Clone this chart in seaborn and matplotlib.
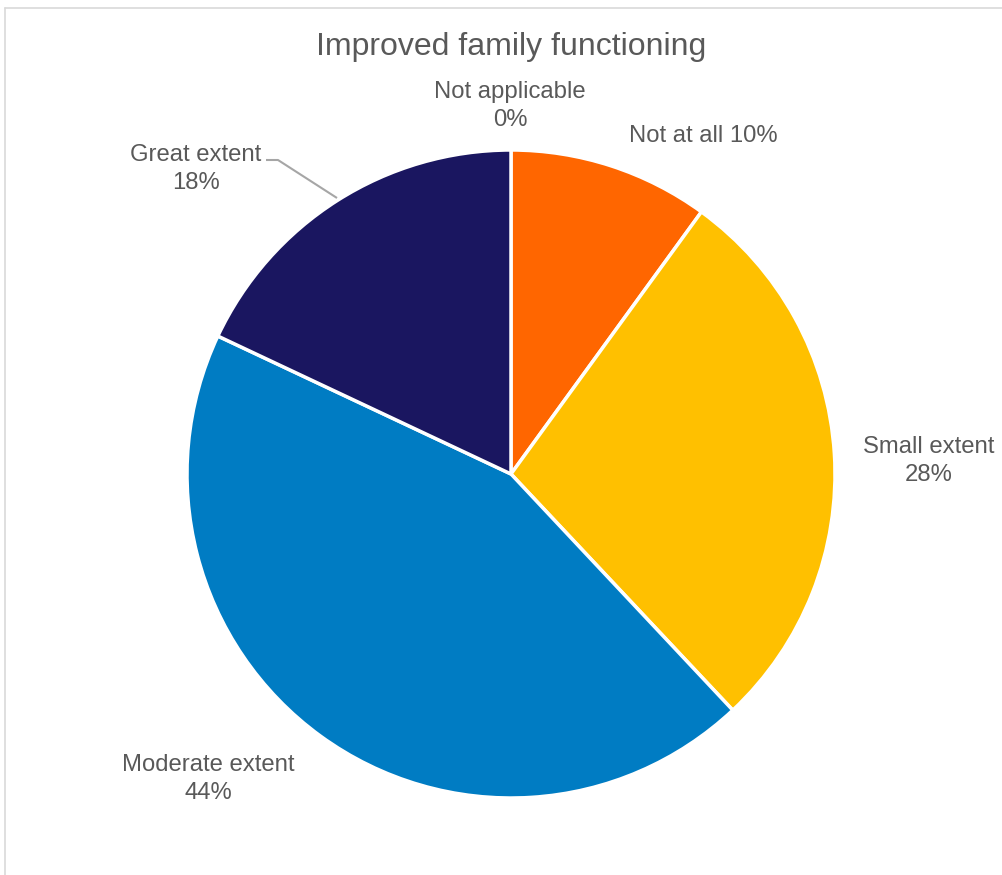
import matplotlib
matplotlib.use("Agg")
import matplotlib.pyplot as plt
from matplotlib.lines import Line2D
import seaborn as sns

# Survey responses: "Improved family functioning"
categories = ["Not applicable", "Not at all", "Small extent", "Moderate extent", "Great extent"]
percentages = [0, 10, 28, 44, 18]
slice_colors = ["#A5A5A5", "#FF6600", "#FFC000", "#007CC3", "#1A1660"]

sns.set_theme(style="white")
plt.rcParams["font.family"] = ["Liberation Sans", "DejaVu Sans"]

W, H = 1002, 875
fig = plt.figure(figsize=(W / 100, H / 100), dpi=100)
ax = fig.add_axes([0, 0, 1, 1])

# pie geometry in pixels
cx, cy, R = 511, 474, 324

def px(x, y):
    return (x - cx) / R, (cy - y) / R

ax.pie(
    percentages,
    colors=sns.color_palette(slice_colors),
    startangle=90,
    counterclock=False,
    radius=1.0,
    wedgeprops=dict(edgecolor="white", linewidth=2.5),
)
ax.set_xlim(-cx / R, (W - cx) / R)
ax.set_ylim(-(H - cy) / R, cy / R)
ax.set_aspect("auto")
ax.axis("off")

text_color = "#595959"
fs = 17.2

# title
tx, ty = px(511, 47)
ax.text(tx, ty, "Improved family functioning", ha="center", va="center",
        fontsize=23, color=text_color)

# data labels
labels = [
    (f"{categories[0]}\n{percentages[0]}%", 510, 106),
    (f"{categories[1]} {percentages[1]}%", 703, 136),
    (f"{categories[2]}\n{percentages[2]}%", 929, 461),
    (f"{categories[3]}\n{percentages[3]}%", 208, 779),
    (f"{categories[4]}\n{percentages[4]}%", 196, 169),
]
for txt, x, y in labels:
    lx, ly = px(x, y)
    ax.text(lx, ly, txt, ha="center", va="center", fontsize=fs, color=text_color,
            linespacing=1.3, multialignment="center")

# leader line for the "Great extent" label
p0 = px(266, 160)
p1 = px(278, 160)
p2 = px(337, 198)
ax.plot([p0[0], p1[0], p2[0]], [p0[1], p1[1], p2[1]], color="#A6A6A6", lw=1.5,
        solid_capstyle="butt")

# chart area border
fig.add_artist(Line2D([4.5 / W, 4.5 / W], [0, 1 - 7.5 / H], transform=fig.transFigure,
                      color="#D9D9D9", lw=1.2))
fig.add_artist(Line2D([4.5 / W, 1], [1 - 7.5 / H, 1 - 7.5 / H], transform=fig.transFigure,
                      color="#D9D9D9", lw=1.2))

fig.savefig("out.png", dpi=100, facecolor="white")
